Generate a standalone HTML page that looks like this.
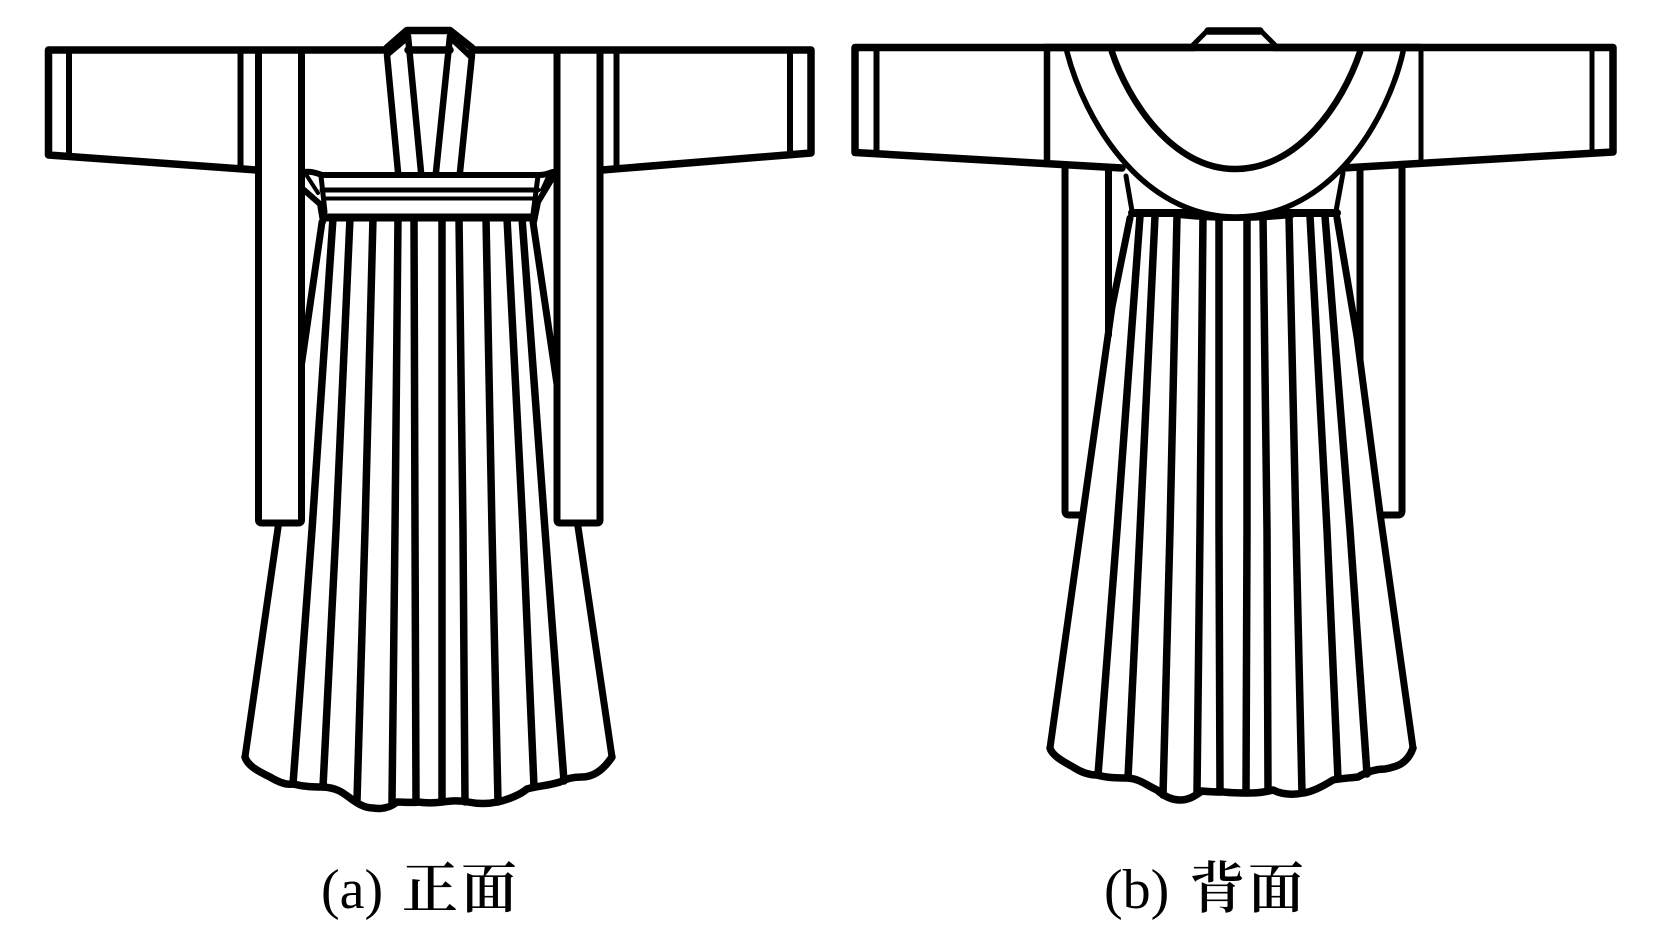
<!DOCTYPE html>
<html lang="zh">
<head>
<meta charset="utf-8">
<style>
html,body{margin:0;padding:0;background:#fff;width:1654px;height:945px;overflow:hidden}
svg{display:block}
.l{fill:none;stroke:#000;stroke-linejoin:round;stroke-linecap:round}
text{fill:#000}
.la{font-family:"Liberation Serif",serif;font-size:56px}
.cj{font-family:"Liberation Serif","Noto Serif CJK SC",serif;font-size:56px;font-weight:600}
</style>
</head>
<body>
<svg width="1654" height="945" viewBox="0 0 1654 945" xmlns="http://www.w3.org/2000/svg" stroke-width="7.500">
<rect width="1654" height="945" fill="#fff" stroke="none"/>

<!-- FIGURE A -->
<g>
  <!-- skirt outer -->
  <path class="l" d="M322,222 L245,757" stroke-width="7"/>
  <path class="l" d="M533,222 L612,757" stroke-width="7"/>
  <!-- pleats -->
  <g class="l">
    <path d="M333,218 L312,530 L293,784"/>
    <path d="M350,218 L336,530 L323,787"/>
    <path d="M373,218 L365,530 L357,800"/>
    <path d="M398,218 L395,530 L392,802"/>
    <path d="M414,218 L415,530 L416,802"/>
    <path d="M442,218 L442,530 L442,802"/>
    <path d="M459,218 L463,530 L465,802"/>
    <path d="M486,218 L492,530 L498,802"/>
    <path d="M507,218 L523,530 L534,787"/>
    <path d="M522,218 L545,530 L564,781"/>
  </g>
  <!-- hem -->
  <path class="l" d="M245,757 C248,767 262,773 270,777 C280,783 288,785 293,784 C305,787 315,787 323,787 C337,788 342,792 350,798 C358,804 365,808 373,808 C385,810 392,806 397,802 C403,802 412,803 418,802 C425,803 435,803 442,802 C450,801 458,800 468,802 C478,804 488,804 497,802 C507,800 520,795 527,789 C537,786 547,786 560,782 C567,778 575,777 582,777 C592,777 602,772 612,757"/>
  <!-- sleeves and shoulders -->
  <path class="l" d="M387,50 L48.500,50 L48.500,155 L256,170"/>
  <path class="l" d="M472,50 L811,50 L811,153 L602,170"/>
  <path class="l" d="M69,52 V155" stroke-width="6"/>
  <path class="l" d="M240.500,52 V166" stroke-width="6"/>
  <path class="l" d="M616.500,52 V166" stroke-width="6"/>
  <path class="l" d="M790,52 V153" stroke-width="6"/>
  <!-- ribbons -->
  <path d="M258.500,54 V520 H301.500 V54 Z M557,54 V520 H600 V54 Z" fill="#fff" stroke="none"/>
  <path class="l" d="M258.500,50 V520 Q258.500,523 262,523 H298 Q301.500,523 301.500,520 V50" stroke-width="7"/>
  <path class="l" d="M557,50 V520 Q557,523 560,523 H597 Q600,523 600,520 V50" stroke-width="7"/>
  <!-- collar -->
  <path class="l" d="M387,48 L407,30.500 H450 L472,48"/>
  <path class="l" d="M407,38 L388,54 M453,40 L470,56" stroke-width="6"/>
  <path class="l" d="M387,55 L398,172" stroke-width="6.500"/>
  <path class="l" d="M408,36 L421,172" stroke-width="6.500"/>
  <path class="l" d="M450,36 L436,172" stroke-width="6.500"/>
  <path class="l" d="M472,55 L460,172" stroke-width="6.500"/>
  <path class="l" d="M408,50 H450"/>
  <!-- belt -->
  <path class="l" d="M303,172 C312,171 316,173 322,175 H540 C546,175 548,173 553,172" stroke-width="6"/>
  <path class="l" d="M322,190 H538" stroke-width="5"/>
  <path class="l" d="M325,198.500 H535" stroke-width="4"/>
  <path class="l" d="M324,217.500 H534" stroke-width="8"/>
  <path class="l" d="M321,176 L325,212 M538,176 L533,214" stroke-width="5"/>
  <path class="l" d="M307,176 L318,193" stroke-width="4"/>
  <path class="l" d="M304,190 L320,204 L323,222" stroke-width="6"/>
  <path class="l" d="M553,177 L538,202 L534,222" stroke-width="6"/>
  <path class="l" d="M548,177 L542,190" stroke-width="4"/>
</g>

<!-- FIGURE B -->
<g>
  <!-- skirt outer -->
  <path class="l" d="M1130,218 L1112,307 L1083,513 L1050,748" stroke-width="7"/>
  <path class="l" d="M1337,218 L1357,337 L1380,513 L1413,748" stroke-width="7"/>
  <!-- inner ribbons -->
  <path class="l" d="M1065,168 V511 Q1065,515 1069,515 H1082" stroke-width="7"/>
  <path class="l" d="M1402,166 V511 Q1402,515 1398,515 H1381" stroke-width="7"/>
  <path class="l" d="M1108.500,170 V335" stroke-width="7"/>
  <path class="l" d="M1360,170 V360" stroke-width="7"/>
  <!-- pleats -->
  <g class="l">
    <path d="M1140,216 L1117,530 L1098,775"/>
    <path d="M1155,216 L1140,530 L1128,778"/>
    <path d="M1177,216 L1170,530 L1163,795"/>
    <path d="M1203,216 L1200,530 L1197,792"/>
    <path d="M1219,216 L1219,530 L1220,792"/>
    <path d="M1247,216 L1247,530 L1246,793"/>
    <path d="M1263,216 L1267,530 L1268,791"/>
    <path d="M1289,216 L1296,530 L1302,793"/>
    <path d="M1310,216 L1327,530 L1338,779"/>
    <path d="M1325,216 L1350,530 L1367,774"/>
  </g>
  <!-- hem -->
  <path class="l" d="M1050,748 C1052,756 1066,763 1073,767 C1082,773 1090,775 1097,775 C1108,778 1118,778 1128,778 C1140,779 1146,785 1157,790 C1165,797 1172,800 1180,800 C1190,800 1196,795 1202,791 C1210,792 1218,792 1224,792 C1232,793 1243,793 1250,793 C1258,793 1265,792 1273,790 C1283,795 1293,795 1303,793 C1313,792 1325,785 1333,780 C1343,778 1350,778 1358,777 C1368,771 1378,769 1385,769 C1395,767 1407,765 1413,748"/>
  <!-- sleeves -->
  <path class="l" d="M1194,47.500 H855 V152.500 L1122,168"/>
  <path class="l" d="M1274,47.500 H1613 V152 L1343,168"/>
  <path class="l" d="M876.500,50 V153" stroke-width="6"/>
  <path class="l" d="M1047,50 V164" stroke-width="6.500"/>
  <path class="l" d="M1421,50 V163" stroke-width="5"/>
  <path class="l" d="M1592,50 V153" stroke-width="5"/>
  <!-- neck -->
  <path class="l" d="M1193,45 L1208,30 H1260 L1275,45" stroke-width="5"/>
  <path class="l" d="M1208,31 H1260"/>
  <!-- body sides -->
  <path class="l" d="M1126,176 L1132,211" stroke-width="5"/>
  <path class="l" d="M1343,173 L1336,211" stroke-width="5"/>
  <path class="l" d="M1132,213 H1337" stroke-width="8"/>
  <!-- collar band -->
  <path d="M1067,52 C1084,118 1140,217 1236,217 C1332,217 1388,118 1403,52 Z" fill="#fff" stroke="none"/>
  <path class="l" d="M1067,52 C1084,118 1140,217 1236,217 C1332,217 1388,118 1403,52" stroke-width="5.500"/>
  <path class="l" d="M1112,52 C1128,100 1172,169 1235,169 C1298,169 1342,105 1360,52" stroke-width="6.500"/>
  <path class="l" d="M1178,215 Q1236,221 1292,215" stroke-width="6"/>
  <path class="l" d="M1045,47.500 H1420"/>
</g>

<!-- captions -->
<text class="la" x="321" y="908">(a)</text>
<text class="cj" x="402" y="908">正</text>
<text class="cj" x="461" y="908">面</text>
<text class="la" x="1104" y="908">(b)</text>
<text class="cj" x="1189" y="908">背</text>
<text class="cj" x="1248" y="908">面</text>
</svg>
</body>
</html>
